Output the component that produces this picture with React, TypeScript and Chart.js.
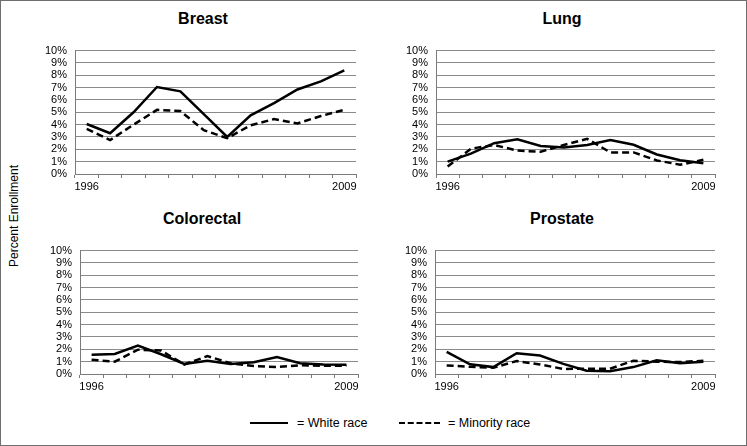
import React, { useEffect, useRef } from "react";
import { Chart, registerables } from "chart.js";

Chart.register(...registerables);

const categories = ["1996", "", "", "", "", "", "", "", "", "", "", "2009"];

const breastWhite = [4.05, 3.3, 5.0, 7.05, 6.7, 4.85, 3.0, 4.75, 5.75, 6.85, 7.5, 8.4];
const breastMinority = [3.65, 2.75, 4.0, 5.2, 5.1, 3.55, 2.9, 3.95, 4.45, 4.1, 4.7, 5.2];
const lungWhite = [1.0, 1.65, 2.5, 2.82, 2.27, 2.15, 2.35, 2.75, 2.37, 1.58, 1.12, 0.87];
const lungMinority = [0.6, 2.05, 2.35, 1.9, 1.8, 2.35, 2.85, 1.75, 1.75, 1.1, 0.75, 1.15];
const colorectalWhite = [1.55, 1.63, 2.3, 1.6, 0.82, 1.07, 0.82, 0.95, 1.38, 0.87, 0.77, 0.74];
const colorectalMinority = [1.15, 1.0, 1.97, 1.9, 0.77, 1.45, 0.87, 0.64, 0.56, 0.71, 0.66, 0.66];
const prostateWhite = [1.8, 0.79, 0.56, 1.68, 1.5, 0.82, 0.26, 0.23, 0.56, 1.12, 0.87, 1.0];
const prostateMinority = [0.69, 0.59, 0.51, 1.05, 0.77, 0.41, 0.43, 0.43, 1.07, 1.0, 0.97, 1.07];

const yMin = 0;
const yMax = 10;
const yStep = 1;

const FONT = "'Liberation Sans', Arial, sans-serif";

type PanelProps = {
  title: string;
  white: number[];
  minority: number[];
  left: number;
  top: number;
  width: number;
  height: number;
  yWidth: number;
  titleX: number;
  titleY: number;
};

function Panel(p: PanelProps) {
  const ref = useRef<HTMLCanvasElement>(null);
  useEffect(() => {
    const chart = new Chart(ref.current!, {
      type: "line",
      data: {
        labels: categories,
        datasets: [
          {
            label: "White race",
            data: p.white,
            borderColor: "#000",
            borderWidth: 2.5,
            pointRadius: 0,
            tension: 0,
            fill: false,
          },
          {
            label: "Minority race",
            data: p.minority,
            borderColor: "#000",
            borderWidth: 2.5,
            borderDash: [7, 4],
            pointRadius: 0,
            tension: 0,
            fill: false,
          },
        ],
      },
      options: {
        responsive: false,
        animation: false,
        layout: { padding: { top: 7, right: 9, left: 0, bottom: 0 } },
        plugins: { legend: { display: false }, tooltip: { enabled: false } },
        scales: {
          x: {
            type: "category",
            offset: true,
            grid: {
              display: true,
              offset: true,
              drawOnChartArea: false,
              drawTicks: true,
              tickLength: 4,
              color: "#7a7a7a",
            },
            border: { display: true, color: "#7a7a7a", width: 1 },
            ticks: {
              autoSkip: false,
              maxRotation: 0,
              minRotation: 0,
              padding: 2,
              color: "#000",
              font: { family: FONT, size: 11 },
            },
            afterFit: (s: any) => {
              s.height = 32;
            },
          },
          y: {
            min: yMin,
            max: yMax,
            grid: {
              color: "#8a8a8a",
              lineWidth: 1,
              drawTicks: false,
            },
            border: { display: true, color: "#7a7a7a", width: 1 },
            ticks: {
              stepSize: yStep,
              autoSkip: false,
              padding: 8,
              color: "#000",
              font: { family: FONT, size: 11 },
              callback: (v: any) => v + "%",
            },
            afterFit: (s: any) => {
              s.width = p.yWidth;
            },
          },
        },
      },
    });
    return () => chart.destroy();
  }, []);
  return (
    <>
      <canvas
        ref={ref}
        width={p.width}
        height={p.height}
        style={{ position: "absolute", left: p.left, top: p.top, width: p.width, height: p.height }}
      />
      <div
        style={{
          position: "absolute",
          left: p.titleX - 100,
          top: p.titleY - 9,
          width: 200,
          textAlign: "center",
          fontFamily: FONT,
          fontWeight: "bold",
          fontSize: 16,
          lineHeight: "18px",
          color: "#000",
        }}
      >
        {p.title}
      </div>
    </>
  );
}

export default function App() {
  return (
    <div
      style={{
        position: "fixed",
        left: 0,
        top: 0,
        width: 747,
        height: 446,
        boxSizing: "border-box",
        border: "1px solid #6e6e6e",
        background: "#fff",
        overflow: "hidden",
      }}
    >
      <div style={{ position: "absolute", left: -1, top: -1, width: 747, height: 446 }}>
        <Panel title="Breast" white={breastWhite} minority={breastMinority}
          left={30} top={36} width={335} height={170} yWidth={45} titleX={203} titleY={19} />
        <Panel title="Lung" white={lungWhite} minority={lungMinority}
          left={385} top={36} width={339} height={170} yWidth={51} titleX={562} titleY={19} />
        <Panel title="Colorectal" white={colorectalWhite} minority={colorectalMinority}
          left={30} top={236} width={337} height={170} yWidth={50} titleX={202} titleY={219} />
        <Panel title="Prostate" white={prostateWhite} minority={prostateMinority}
          left={385} top={236} width={339} height={170} yWidth={50} titleX={562} titleY={219} />
        <div
          style={{
            position: "absolute",
            left: 14 - 60,
            top: 216 - 8,
            width: 120,
            height: 16,
            lineHeight: "16px",
            textAlign: "center",
            transform: "rotate(-90deg)",
            fontFamily: FONT,
            fontSize: 12,
            color: "#000",
            whiteSpace: "nowrap",
          }}
        >
          Percent Enrollment
        </div>
        <div style={{ position: "absolute", left: 250, top: 422, width: 38, borderTop: "2.5px solid #000" }} />
        <div style={{ position: "absolute", left: 297, top: 415, fontFamily: FONT, fontSize: 12.5, lineHeight: "16px", whiteSpace: "nowrap" }}>
          = White race
        </div>
        <div style={{ position: "absolute", left: 399, top: 422, width: 41, borderTop: "2.5px dashed #000" }} />
        <div style={{ position: "absolute", left: 448, top: 415, fontFamily: FONT, fontSize: 12.5, lineHeight: "16px", whiteSpace: "nowrap" }}>
          = Minority race
        </div>
      </div>
    </div>
  );
}
